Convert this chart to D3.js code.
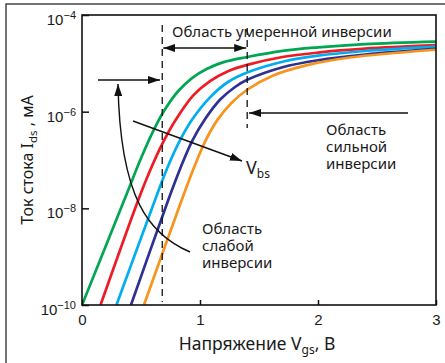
<!DOCTYPE html>
<html>
<head>
<meta charset="utf-8">
<script src="https://cdn.jsdelivr.net/npm/d3@7"></script>
<style>
body { margin: 0; background: #fff; }
svg text { font-family: "Noto Sans", sans-serif; fill: #1a1a1a; }
.num { font-family: "Liberation Sans", Arial, sans-serif; }
</style>
</head>
<body>
<script>
// drain current curves (Vgs in V, Ids in mA)
var vGreen = [0, 0.358, 0.5, 0.62, 0.72, 0.82, 0.93, 1.06, 1.2, 1.4, 1.7, 2.0, 2.4, 3]
var iGreen = [1e-10, 1.48e-8, 1.09e-7, 4.8e-7, 1.29e-6, 2.74e-6, 4.9e-6, 7.7e-6, 1.06e-5, 1.35e-5, 1.81e-5, 2.14e-5, 2.5e-5, 2.82e-5]
var vRed = [0.157, 0.477, 0.576, 0.678, 0.788, 0.943, 1.085, 1.237, 1.4, 1.7, 2.0, 2.4, 3]
var iRed = [1e-10, 1.49e-8, 5.98e-8, 2.1e-7, 6.41e-7, 2.18e-6, 4.28e-6, 6.87e-6, 9.29e-6, 1.35e-5, 1.67e-5, 2.01e-5, 2.37e-5]
var vCyan = [0.292, 0.619, 0.72, 0.831, 0.932, 1.085, 1.237, 1.4, 1.7, 2.0, 2.4, 3]
var iCyan = [1e-10, 1.49e-8, 6.58e-8, 2.57e-7, 6.79e-7, 1.98e-6, 4.11e-6, 6.46e-6, 1.08e-5, 1.44e-5, 1.8e-5, 2.21e-5]
var vNavy = [0.415, 0.731, 0.831, 0.932, 1.042, 1.169, 1.297, 1.4, 1.7, 2.0, 2.4, 3]
var iNavy = [1e-10, 1.49e-8, 6.52e-8, 2.43e-7, 6.95e-7, 1.76e-6, 3.24e-6, 4.56e-6, 8.32e-6, 1.16e-5, 1.52e-5, 1.99e-5]
var vOrange = [0.525, 0.845, 0.941, 1.042, 1.148, 1.271, 1.4, 1.62, 1.9, 2.27, 3]
var iOrange = [1e-10, 1.49e-8, 6.21e-8, 2.38e-7, 6.76e-7, 1.55e-6, 2.84e-6, 5.62e-6, 9.1e-6, 1.32e-5, 1.91e-5]

var xTicks = [0, 1, 2, 3]
var yTicks = [1e-10, 1e-8, 1e-6, 1e-4]
var yTickExp = ["\u221210", "\u22128", "\u22126", "\u22124"]

// borders of the inversion regions (Vgs, V)
var weakEdge = 0.68
var strongEdge = 1.4

var series = [
    {v: vGreen, i: iGreen, color: "#00a651"},
    {v: vRed, i: iRed, color: "#ed1c24"},
    {v: vCyan, i: iCyan, color: "#00aeef"},
    {v: vNavy, i: iNavy, color: "#2e3192"},
    {v: vOrange, i: iOrange, color: "#f7941d"}
]

var W = 445, H = 363
var pL = 82, pT = 15, pR = 436, pB = 305

var x = d3.scaleLinear().domain([0, 3]).range([pL, pR])
var y = d3.scaleLog().domain([1e-10, 1e-4]).range([pB, pT])

var svg = d3.select("body").append("svg").attr("width", W).attr("height", H)

// arrow head
var defs = svg.append("defs")
defs.append("marker").attr("id", "ah")
    .attr("viewBox", "0 0 12 8").attr("refX", 12).attr("refY", 4)
    .attr("markerWidth", 12).attr("markerHeight", 8).attr("markerUnits", "userSpaceOnUse")
    .attr("orient", "auto-start-reverse")
    .append("path").attr("d", "M0,0 L12,4 L0,8 Z").attr("fill", "#111")
defs.append("clipPath").attr("id", "plot")
    .append("rect").attr("x", pL).attr("y", pT).attr("width", pR - pL).attr("height", pB - pT)

// outer frame
svg.append("rect").attr("x", 6).attr("y", 4).attr("width", 480).attr("height", 400)
    .attr("fill", "none").attr("stroke", "#3a3a3a").attr("stroke-width", 1.4)

// curves
var line = d3.line().x(function(d) { return x(d[0]) }).y(function(d) { return y(d[1]) }).curve(d3.curveCatmullRom.alpha(0.5))
svg.append("g").attr("clip-path", "url(#plot)").selectAll("path").data(series).enter().append("path")
    .attr("d", function(s) { return line(s.v.map(function(v, k) { return [v, s.i[k]] })) })
    .attr("fill", "none").attr("stroke", function(s) { return s.color }).attr("stroke-width", 2.7)

// axes, ticks point inward
var xAxis = svg.append("g").attr("transform", "translate(0," + pB + ")")
    .call(d3.axisBottom(x).tickValues(xTicks).tickSize(-5).tickSizeOuter(0).tickPadding(9).tickFormat(d3.format("d")))
var yAxis = svg.append("g").attr("transform", "translate(" + pL + ",0)")
    .call(d3.axisLeft(y).tickValues(yTicks).tickSize(-7).tickSizeOuter(0).tickFormat(""))
svg.selectAll(".domain").remove()
svg.selectAll(".tick line").attr("stroke", "#111").attr("stroke-width", 1.5)
xAxis.selectAll(".tick text").attr("class", "num").style("font-size", "15px").attr("fill", "#1a1a1a")

var yl = svg.append("g").selectAll("text").data(yTicks).enter().append("text").attr("class", "num")
    .attr("x", 76).attr("y", function(d) { return y(d) + 10 }).attr("text-anchor", "end").style("font-size", "15px")
yl.append("tspan").text("10")
yl.append("tspan").attr("dy", -6).style("font-size", "11px").text(function(d, k) { return yTickExp[k] })

svg.append("rect").attr("x", pL).attr("y", pT).attr("width", pR - pL).attr("height", pB - pT)
    .attr("fill", "none").attr("stroke", "#111").attr("stroke-width", 1.6)

// axis titles
var xt = svg.append("text").attr("x", 257).attr("y", 350).attr("text-anchor", "middle").style("font-size", "17.5px")
xt.append("tspan").text("Напряжение V")
xt.append("tspan").attr("dy", 4).style("font-size", "12px").text("gs")
xt.append("tspan").attr("dy", -4).text(", В")

var yt = svg.append("text").attr("transform", "translate(33,160) rotate(-90)").attr("text-anchor", "middle").style("font-size", "16px")
yt.append("tspan").text("Ток стока I")
yt.append("tspan").attr("dy", 4).style("font-size", "11.5px").text("ds")
yt.append("tspan").attr("dy", -4).text(" , мА")

// region borders
svg.append("line").attr("x1", x(weakEdge)).attr("x2", x(weakEdge)).attr("y1", 25).attr("y2", 302)
    .attr("stroke", "#111").attr("stroke-width", 1.3).attr("stroke-dasharray", "7,5")
svg.append("line").attr("x1", x(strongEdge)).attr("x2", x(strongEdge)).attr("y1", 28).attr("y2", 128)
    .attr("stroke", "#111").attr("stroke-width", 1.3).attr("stroke-dasharray", "7,5")

// arrows
function arrow(x1, y1, x2, y2, both) {
    var a = svg.append("line").attr("x1", x1).attr("y1", y1).attr("x2", x2).attr("y2", y2)
        .attr("stroke", "#111").attr("stroke-width", 1.4).attr("marker-end", "url(#ah)")
    if (both) a.attr("marker-start", "url(#ah)")
}
arrow(x(weakEdge) + 1, 48, x(strongEdge) - 1, 48, true)
arrow(98, 80, 160, 80)
arrow(408, 113, 249, 113)
arrow(133, 121, 242, 161)
svg.append("path").attr("d", "M190,252 C150,235 120,200 118,84").attr("fill", "none")
    .attr("stroke", "#111").attr("stroke-width", 1.4).attr("marker-end", "url(#ah)")

// annotations
function label(lines, x0, y0) {
    var t = svg.append("text").attr("x", x0).attr("y", y0).style("font-size", "15px")
    lines.forEach(function(s, k) {
        t.append("tspan").attr("x", x0).attr("dy", k ? 17 : 0).text(s)
    })
}
label(["Область умеренной инверсии"], 172, 37)
label(["Область", "сильной", "инверсии"], 326, 135)
label(["Область", "слабой", "инверсии"], 202, 234)

var vb = svg.append("text").attr("x", 246).attr("y", 174).style("font-size", "18px")
vb.append("tspan").text("V")
vb.append("tspan").attr("dy", 4).style("font-size", "12px").text("bs")
</script>
</body>
</html>
